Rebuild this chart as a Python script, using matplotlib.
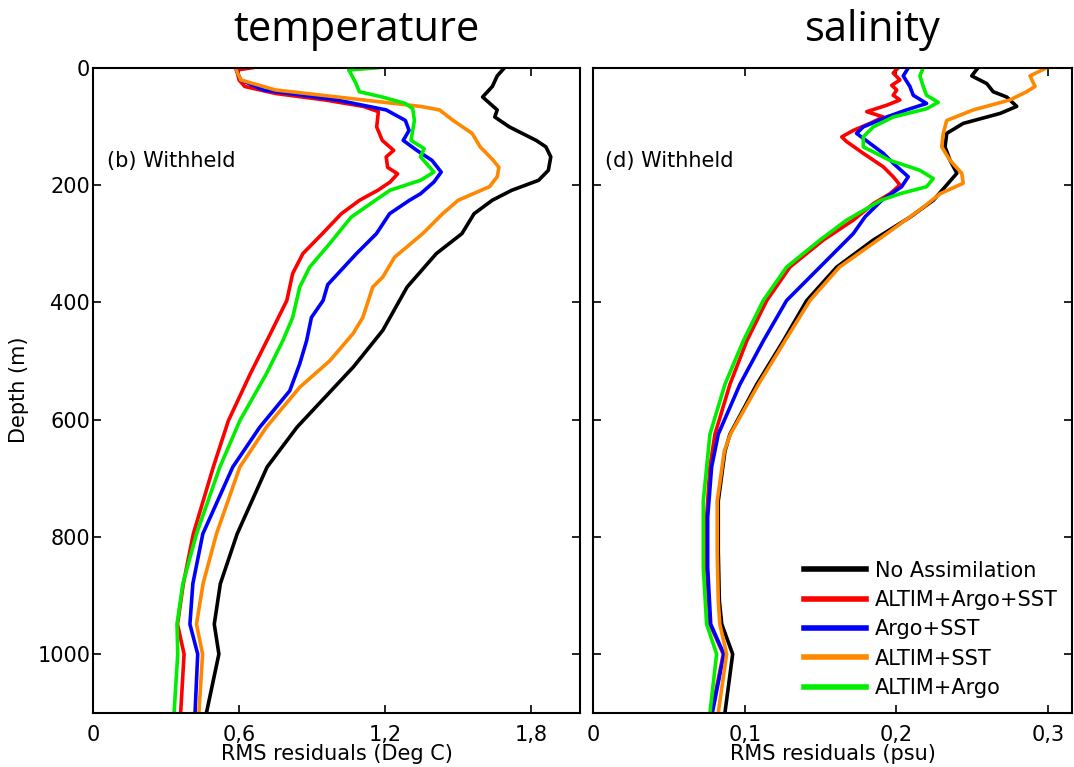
import matplotlib
matplotlib.use("Agg")
import matplotlib.pyplot as plt
from matplotlib.ticker import FixedLocator, FixedFormatter

# ---------------- data ----------------
series_labels = ["No Assimilation", "ALTIM+Argo+SST", "Argo+SST", "ALTIM+SST", "ALTIM+Argo"]
series_colors = ["#000000", "#ff0000", "#0000ff", "#ff8800", "#00ee00"]

# Temperature panel (depth m, RMS deg C)
t_black_d = [0, 14, 32, 50, 61, 72, 84, 101, 124, 135, 152, 175, 192, 209, 226, 249, 283, 317, 374, 448, 510, 613, 681, 795, 880, 949, 1000, 1100]
t_black_v = [1.69, 1.66, 1.64, 1.60, 1.63, 1.66, 1.65, 1.71, 1.82, 1.86, 1.88, 1.87, 1.83, 1.72, 1.64, 1.565, 1.515, 1.41, 1.29, 1.19, 1.07, 0.838, 0.715, 0.592, 0.523, 0.498, 0.517, 0.466]

t_red_d = [0, 4, 21, 32, 44, 55, 66, 75, 101, 124, 141, 152, 170, 181, 195, 209, 226, 249, 283, 317, 351, 397, 454, 522, 602, 681, 795, 880, 949, 1000, 1100]
t_red_v = [0.655, 0.59, 0.60, 0.623, 0.75, 0.952, 1.11, 1.172, 1.165, 1.188, 1.235, 1.204, 1.21, 1.251, 1.22, 1.17, 1.095, 1.02, 0.942, 0.862, 0.82, 0.796, 0.728, 0.646, 0.556, 0.494, 0.412, 0.371, 0.347, 0.374, 0.36]

t_blue_d = [0, 21, 38, 55, 72, 90, 107, 124, 141, 158, 178, 195, 215, 226, 249, 283, 317, 370, 397, 426, 466, 505, 551, 613, 681, 795, 880, 949, 1000, 1100]
t_blue_v = [0.584, 0.607, 0.70, 1.0, 1.204, 1.283, 1.298, 1.274, 1.33, 1.392, 1.43, 1.40, 1.345, 1.30, 1.218, 1.164, 1.082, 0.964, 0.945, 0.897, 0.877, 0.849, 0.808, 0.685, 0.574, 0.451, 0.41, 0.398, 0.43, 0.419]

t_orange_d = [0, 21, 38, 55, 66, 72, 90, 112, 135, 158, 170, 186, 203, 226, 249, 283, 323, 357, 374, 426, 454, 500, 545, 613, 681, 795, 880, 949, 1000, 1100]
t_orange_v = [0.584, 0.607, 0.75, 1.11, 1.345, 1.423, 1.479, 1.557, 1.59, 1.644, 1.667, 1.66, 1.628, 1.50, 1.436, 1.354, 1.239, 1.19, 1.149, 1.108, 1.067, 0.972, 0.849, 0.712, 0.603, 0.507, 0.452, 0.425, 0.45, 0.435]

t_green_d = [0, 4, 7, 27, 41, 50, 61, 70, 90, 124, 138, 152, 178, 192, 209, 226, 255, 300, 340, 374, 426, 466, 522, 602, 681, 795, 880, 949, 1000, 1100]
t_green_v = [1.17, 1.05, 1.055, 1.08, 1.094, 1.188, 1.283, 1.313, 1.32, 1.306, 1.36, 1.345, 1.40, 1.345, 1.22, 1.16, 1.06, 0.972, 0.89, 0.849, 0.82, 0.779, 0.712, 0.603, 0.521, 0.425, 0.369, 0.345, 0.348, 0.333]

# Salinity panel (depth m, RMS psu)
s_black_d = [0, 14, 27, 41, 50, 66, 78, 95, 112, 135, 158, 180, 200, 226, 255, 294, 340, 397, 466, 540, 625, 654, 739, 824, 909, 949, 1000, 1100]
s_black_v = [0.254, 0.2498, 0.2597, 0.264, 0.2729, 0.2795, 0.2685, 0.2442, 0.2333, 0.2322, 0.2355, 0.240, 0.2333, 0.2245, 0.209, 0.1848, 0.1607, 0.1409, 0.1254, 0.1079, 0.0902, 0.0869, 0.0825, 0.0825, 0.0832, 0.0848, 0.092, 0.0869]

s_red_d = [0, 9, 21, 30, 38, 47, 55, 64, 75, 84, 95, 107, 118, 126, 146, 169, 186, 200, 215, 232, 260, 294, 340, 397, 466, 540, 625, 681, 767, 852, 949, 1000, 1100]
s_red_v = [0.2013, 0.198, 0.2024, 0.197, 0.2003, 0.198, 0.2024, 0.1937, 0.1805, 0.1914, 0.1826, 0.1716, 0.164, 0.1672, 0.1782, 0.1914, 0.198, 0.2024, 0.1958, 0.1848, 0.1716, 0.1518, 0.1298, 0.1145, 0.1013, 0.0902, 0.0803, 0.077, 0.0748, 0.0748, 0.077, 0.0858, 0.0781]

s_blue_d = [0, 14, 32, 47, 61, 72, 84, 101, 112, 129, 146, 163, 186, 203, 226, 254, 283, 340, 397, 466, 540, 625, 681, 767, 852, 949, 1000, 1100]
s_blue_v = [0.208, 0.2046, 0.209, 0.2112, 0.220, 0.2068, 0.1937, 0.1782, 0.1738, 0.1826, 0.1914, 0.198, 0.2079, 0.2035, 0.1905, 0.1795, 0.1716, 0.1496, 0.1276, 0.1122, 0.0968, 0.0825, 0.0781, 0.0755, 0.0755, 0.0775, 0.0862, 0.0786]

s_orange_d = [0, 14, 32, 41, 55, 72, 90, 112, 135, 158, 180, 197, 215, 238, 283, 340, 397, 466, 540, 625, 654, 739, 824, 909, 949, 1000, 1100]
s_orange_v = [0.2993, 0.2883, 0.2916, 0.286, 0.275, 0.2508, 0.2333, 0.231, 0.230, 0.2355, 0.2432, 0.2442, 0.2289, 0.2178, 0.1937, 0.1625, 0.143, 0.1265, 0.109, 0.0905, 0.0865, 0.0818, 0.0818, 0.0825, 0.0835, 0.088, 0.0825]

s_green_d = [0, 14, 32, 47, 59, 70, 84, 101, 118, 135, 158, 175, 189, 203, 215, 226, 260, 294, 340, 397, 466, 540, 625, 739, 852, 949, 1000, 1100]
s_green_v = [0.2178, 0.2156, 0.2178, 0.220, 0.2277, 0.220, 0.198, 0.1848, 0.1782, 0.1782, 0.1958, 0.2156, 0.2244, 0.220, 0.2024, 0.190, 0.1672, 0.1496, 0.1276, 0.1122, 0.099, 0.0869, 0.077, 0.0726, 0.0726, 0.0748, 0.0814, 0.077]

temp_series = [(t_black_v, t_black_d), (t_red_v, t_red_d), (t_blue_v, t_blue_d), (t_orange_v, t_orange_d), (t_green_v, t_green_d)]
sal_series = [(s_black_v, s_black_d), (s_red_v, s_red_d), (s_blue_v, s_blue_d), (s_orange_v, s_orange_d), (s_green_v, s_green_d)]

depth_ticks = [0, 200, 400, 600, 800, 1000]
temp_ticks = [0, 0.6, 1.2, 1.8]
temp_ticklabels = ["0", "0,6", "1,2", "1,8"]
sal_ticks = [0, 0.1, 0.2, 0.3]
sal_ticklabels = ["0", "0,1", "0,2", "0,3"]

# ---------------- figure ----------------
W, H = 1074, 767
fig = plt.figure(figsize=(W / 100, H / 100), dpi=100)
plt.rcParams['font.family'] = ['DejaVu Sans']

def px_axes(x0, x1, y0, y1):
    return fig.add_axes([x0 / W, 1 - y1 / H, (x1 - x0) / W, (y1 - y0) / H])

ax1 = px_axes(93, 580, 67.7, 712.7)
ax2 = px_axes(593.3, 1072, 67.7, 712.7)

tick_fs = 15
for ax, series, xt, xtl, xmax in [(ax1, temp_series, temp_ticks, temp_ticklabels, 2.0),
                                  (ax2, sal_series, sal_ticks, sal_ticklabels, 0.316)]:
    for (v, d), c, lab in zip(series, series_colors, series_labels):
        ax.plot(v, d, color=c, lw=2.6, label=lab, solid_joinstyle='round')
    ax.set_xlim(0, xmax)
    ax.set_ylim(1100, 0)
    ax.xaxis.set_major_locator(FixedLocator(xt))
    ax.xaxis.set_major_formatter(FixedFormatter(xtl))
    ax.set_yticks(depth_ticks)
    ax.tick_params(direction='in', top=True, right=True, length=6, width=1.2,
                   labelsize=tick_fs, colors='black')
    ax.tick_params(axis='x', pad=9)
    ax.tick_params(axis='y', pad=2)
    for s in ax.spines.values():
        s.set_linewidth(1.5)

ax2.tick_params(axis='y', labelleft=False)

ax1.set_ylabel("Depth (m)", fontsize=tick_fs, labelpad=6)
ax1.set_xlabel("RMS residuals (Deg C)", fontsize=tick_fs, labelpad=-1)
ax2.set_xlabel("RMS residuals (psu)", fontsize=tick_fs, labelpad=-1)

ax1.text(0.028, 0.855, "(b) Withheld", transform=ax1.transAxes, fontsize=tick_fs, va='center', ha='left')
ax2.text(0.025, 0.855, "(d) Withheld", transform=ax2.transAxes, fontsize=tick_fs, va='center', ha='left')

fig.text(357 / W, 1 - 30 / H, "temperature", fontsize=30, family=['Open Sans', 'DejaVu Sans'],
         ha='center', va='center')
fig.text(873 / W, 1 - 30 / H, "salinity", fontsize=30, family=['Open Sans', 'DejaVu Sans'],
         ha='center', va='center')

leg = ax2.legend(loc='lower right', bbox_to_anchor=(1.0, 0.0), frameon=False, fontsize=tick_fs,
                 handlelength=3.0, handletextpad=0.4, labelspacing=0.45, borderaxespad=0.3)
for h in leg.get_lines():
    h.set_linewidth(4)

fig.savefig("out.png", dpi=100)
